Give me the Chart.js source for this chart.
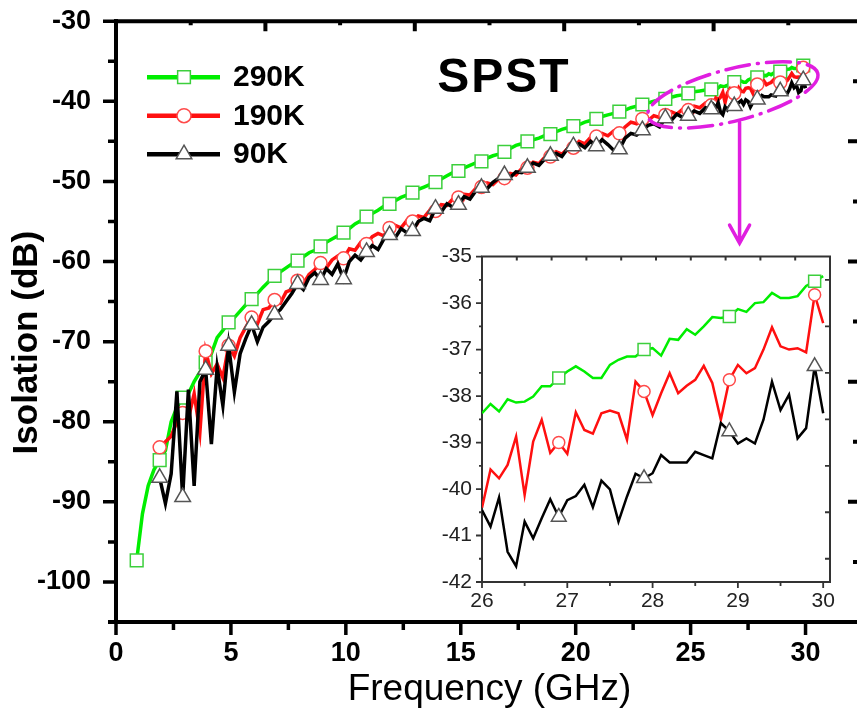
<!DOCTYPE html>
<html>
<head>
<meta charset="utf-8">
<script src="https://cdn.jsdelivr.net/npm/chart.js@4.4.1/dist/chart.umd.min.js"></script>
<style>
html, body { margin: 0; padding: 0; background: #fff; overflow: hidden; width: 857px; height: 721px; }
/* canvases are shifted so that the tick-label padding Chart.js reserves falls outside the page */
#main { position: absolute; left: 0; top: -20px; }
#inset { position: absolute; left: 420px; top: 234px; }
</style>
</head>
<body>
<canvas id="main" width="878" height="741"></canvas>
<canvas id="inset" width="437" height="396"></canvas>
<script>
// --- DATA ---
const seriesNames = ["290K", "190K", "90K"];

// coarse sweep for the main plot (GHz)
const mainFreq = [0.9,1.15,1.4,1.65,1.9,2.15,2.4,2.65,2.9,3.15,3.4,3.65,3.9,4.15,4.4,4.65,4.9,5.15,5.4,5.65,
  5.9,6.15,6.4,6.65,6.9,7.15,7.4,7.65,7.9,8.15,8.4,8.65,8.9,9.15,9.4,9.65,9.9,10.15,10.4,10.65,
  10.9,11.15,11.4,11.65,11.9,12.15,12.4,12.65,12.9,13.15,13.4,13.65,13.9,14.15,14.4,14.65,14.9,15.15,15.4,15.65,
  15.9,16.15,16.4,16.65,16.9,17.15,17.4,17.65,17.9,18.15,18.4,18.65,18.9,19.15,19.4,19.65,19.9,20.15,20.4,20.65,
  20.9,21.15,21.4,21.65,21.9,22.15,22.4,22.65,22.9,23.15,23.4,23.65,23.9,24.15,24.4,24.65,24.9,25.15,25.4,25.65,25.9];

const green290 = [-97.3,-91.5,-88.0,-86.0,-84.8,-83.6,-80.0,-78.2,-77.0,-76.5,-75.0,-73.8,-72.6,-71.5,-69.5,-68.6,
  -67.6,-67.0,-66.2,-65.4,-64.7,-64.0,-63.2,-62.5,-61.8,-61.3,-60.8,-60.3,-59.9,-59.4,-58.9,-58.6,
  -58.1,-57.6,-57.2,-56.8,-56.4,-55.9,-55.3,-54.9,-54.4,-54.0,-53.6,-53.1,-52.8,-52.4,-52.0,-51.7,
  -51.4,-51.0,-50.7,-50.4,-50.1,-49.7,-49.3,-48.9,-48.7,-48.3,-48.0,-47.7,-47.5,-47.1,-46.8,-46.6,
  -46.3,-45.9,-45.5,-45.3,-45.0,-44.8,-44.6,-44.3,-44.1,-43.8,-43.5,-43.3,-43.1,-42.9,-42.6,-42.4,
  -42.2,-41.9,-41.7,-41.5,-41.3,-41.1,-40.8,-40.6,-40.4,-40.2,-40.0,-39.8,-39.7,-39.5,-39.3,-39.2,
  -39.0,-38.8,-38.7,-38.6,-38.5];

const red190 = [null,null,null,null,-83.2,-82.5,-81.8,-80.0,-78.9,-79.6,-76.5,-81.3,-71.2,-74.0,-72.8,-74.5,
  -70.5,-71.8,-69.5,-68.2,-67.0,-67.8,-66.0,-65.8,-64.8,-65.2,-63.8,-63.5,-62.4,-62.8,-61.6,-61.0,
  -60.2,-60.8,-59.8,-59.3,-59.6,-58.4,-58.6,-57.6,-57.8,-56.9,-56.5,-56.8,-55.8,-55.5,-55.8,-54.9,
  -55.0,-54.3,-54.5,-53.6,-53.7,-52.9,-53.0,-52.2,-52.0,-51.6,-51.7,-50.9,-50.7,-50.2,-50.4,-49.7,
  -49.6,-49.0,-49.2,-48.4,-48.3,-47.6,-47.8,-47.0,-46.9,-46.3,-46.6,-45.9,-45.8,-45.0,-45.3,-44.5,
  -44.4,-44.0,-44.3,-43.7,-44.0,-43.2,-42.6,-42.8,-42.2,-42.4,-41.8,-42.0,-41.7,-41.3,-41.6,-41.0,
  -41.1,-40.6,-40.8,-40.2,-40.5];

const black90 = [null,null,null,null,-87.0,-90.2,-86.5,-76.2,-89.4,-76.0,-88.0,-75.0,-73.5,-82.8,-73.2,-78.0,
  -70.5,-76.3,-71.5,-69.6,-67.9,-70.0,-68.2,-67.5,-66.6,-66.0,-65.0,-64.0,-62.8,-63.5,-62.0,-61.4,
  -62.3,-60.9,-61.6,-60.3,-62.2,-60.0,-59.2,-59.8,-58.8,-58.0,-58.5,-57.2,-56.7,-57.0,-55.9,-56.4,
  -56.2,-55.0,-54.6,-54.9,-53.4,-53.8,-52.8,-53.2,-52.9,-51.9,-52.2,-51.2,-50.8,-50.9,-50.1,-49.6,
  -49.2,-49.5,-48.8,-48.9,-48.3,-47.7,-48.0,-47.2,-46.8,-46.5,-46.9,-45.9,-45.6,-45.3,-45.8,-45.0,
  -45.6,-44.8,-45.4,-46.1,-46.0,-44.6,-44.0,-44.2,-43.6,-43.0,-42.8,-43.2,-42.1,-42.4,-41.6,-42.0,
  -41.8,-41.2,-41.5,-40.8,-41.0];

// fine sweep 26-30 GHz (shown in both the main plot and the inset)
const insetFreq = [26.0,26.1,26.2,26.3,26.4,26.5,26.6,26.7,26.8,26.9,27.0,27.1,27.2,27.3,27.4,27.5,27.6,27.7,27.8,27.9,
  28.0,28.1,28.2,28.3,28.4,28.5,28.6,28.7,28.8,28.9,29.0,29.1,29.2,29.3,29.4,29.5,29.6,29.7,29.8,29.9,30.0];

const green290Fine = [-38.37,-38.17,-38.33,-38.07,-38.14,-38.12,-38.01,-37.79,-37.79,-37.61,
  -37.47,-37.36,-37.47,-37.61,-37.61,-37.33,-37.22,-37.15,-37.15,-37.0,
  -36.97,-37.13,-36.77,-36.79,-36.56,-36.68,-36.5,-36.3,-36.32,-36.29,
  -36.13,-36.19,-36.0,-35.98,-35.78,-35.89,-35.89,-35.85,-35.63,-35.53,-35.42];

const red190Fine = [-40.40,-39.58,-39.77,-39.48,-38.87,-40.13,-38.98,-38.51,-39.22,-39.0,
  -39.24,-38.35,-38.73,-38.81,-38.37,-38.31,-38.37,-38.94,-37.69,-37.9,
  -38.41,-37.94,-37.51,-37.94,-37.78,-37.65,-37.35,-37.72,-38.51,-37.65,
  -37.33,-37.51,-37.4,-37.0,-36.52,-36.93,-37.0,-36.97,-37.06,-35.82,-36.43];

const black90Fine = [-40.45,-40.81,-40.18,-41.35,-41.66,-40.70,-41.06,-40.63,-40.22,-40.60,
  -40.24,-40.15,-39.91,-40.39,-39.82,-40.01,-40.70,-40.16,-39.67,-39.77,
  -39.66,-39.27,-39.43,-39.43,-39.43,-39.20,-39.27,-39.34,-38.58,-38.76,
  -39.02,-38.91,-39.02,-38.51,-37.69,-38.3,-37.97,-38.91,-38.69,-37.36,-38.37];

// axis tick values
const mainXTicks = [0,2.5,5,7.5,10,12.5,15,17.5,20,22.5,25,27.5,30,32.5];
const mainYTicks = [-105,-100,-95,-90,-85,-80,-75,-70,-65,-60,-55,-50,-45,-40,-35,-30];
const insetXTicks = [26,26.5,27,27.5,28,28.5,29,29.5,30];
const insetYTicks = [-42,-41.5,-41,-40.5,-40,-39.5,-39,-38.5,-38,-37.5,-37,-36.5,-36,-35.5,-35];

// annotation: ellipse ends [GHz, dB] and arrow [GHz, dB top, dB tip]
const ellipseEnds = [[23.14, -41.9], [30.53, -36.5]];
const arrowLine = [27.13, -42.6, -57.7];

const FONT = "'Liberation Sans', Arial, sans-serif";
const MAGENTA = "#e01ee0";

// --- HELPERS ---
const isMult = (v, m) => Math.abs(v / m - Math.round(v / m)) < 1e-6;
const isMarker = (x) => isMult(x - 0.9, 1);

function points(xs, ys) {
    return xs.map((x, i) => ({ x: x, y: ys[i] }));
}

const styles = [
    { color: "#00ee00", mark: "rect", edge: "#3ccf3c" },
    { color: "#ff1010", mark: "circle", edge: "#ff4a4a" },
    { color: "#000000", mark: "triangle", edge: "#555555" }
];

function makeSets(data, lw, sizes) {
    return data.map((d, i) => ({
        label: seriesNames[i],
        data: d,
        order: 3 - i,
        borderColor: styles[i].color,
        borderWidth: lw,
        tension: 0,
        spanGaps: false,
        pointStyle: styles[i].mark,
        pointBackgroundColor: "#fff",
        pointBorderColor: styles[i].edge,
        pointBorderWidth: 1.5,
        pointRadius: (c) => (c.raw && c.raw.y !== null && isMarker(c.raw.x)) ? sizes[i] : 0
    }));
}

function drawMarker(ctx, kind, x, y, r, edge) {
    ctx.save();
    ctx.fillStyle = "#fff";
    ctx.strokeStyle = edge;
    ctx.lineWidth = 1.5;
    ctx.beginPath();
    if (kind === "rect") {
        const s = r * Math.SQRT1_2;
        ctx.rect(x - s, y - s, 2 * s, 2 * s);
    } else if (kind === "circle") {
        ctx.arc(x, y, r, 0, Math.PI * 2);
    } else {
        ctx.moveTo(x, y - r);
        ctx.lineTo(x + r * 0.866, y + r * 0.5);
        ctx.lineTo(x - r * 0.866, y + r * 0.5);
        ctx.closePath();
    }
    ctx.fill();
    ctx.stroke();
    ctx.restore();
}

// tick marks on an axis: positive length = outward, negative = inward
function marks(ctx, scale, edge, lenOf, width, color) {
    const a = scale.chart.chartArea;
    ctx.save();
    ctx.strokeStyle = color;
    ctx.lineWidth = width;
    ctx.beginPath();
    scale.ticks.forEach(t => {
        const L = lenOf(t.value);
        if (!L) return;
        const p = scale.getPixelForValue(t.value);
        if (edge === "bottom") { ctx.moveTo(p, a.bottom); ctx.lineTo(p, a.bottom + L); }
        if (edge === "left") { ctx.moveTo(a.left, p); ctx.lineTo(a.left - L, p); }
        if (edge === "right") { ctx.moveTo(a.right, p); ctx.lineTo(a.right - L, p); }
    });
    ctx.stroke();
    ctx.restore();
}

// mirror frame: top and right edges with their own inward ticks (n divisions)
function frame(ctx, a, width, color, n, lenTop, lenRight) {
    ctx.save();
    ctx.strokeStyle = color;
    ctx.lineWidth = width;
    ctx.beginPath();
    ctx.moveTo(a.left - width / 2, a.top);
    ctx.lineTo(a.right, a.top);
    ctx.lineTo(a.right, a.bottom);
    for (let k = 1; k < n; k++) {
        const x = a.left + (a.right - a.left) * k / n;
        const lt = lenTop(k);
        if (lt) { ctx.moveTo(x, a.top); ctx.lineTo(x, a.top + lt); }
        const y = a.bottom - (a.bottom - a.top) * k / n;
        const lr = lenRight ? lenRight(k) : 0;
        if (lr) { ctx.moveTo(a.right, y); ctx.lineTo(a.right - lr, y); }
    }
    ctx.stroke();
    ctx.restore();
}

const fixTicks = (list) => (s) => { s.ticks = list.map(v => ({ value: v })); };

// --- MAIN CHART ---
const mainDecor = {
    id: "mainDecor",
    afterDraw(chart) {
        const ctx = chart.ctx, a = chart.chartArea, sc = chart.scales;
        frame(ctx, a, 4, "#000", 10, k => k % 2 ? 4 : 10, k => k % 2 ? 10 : 15);
        marks(ctx, sc.x, "bottom", v => isMult(v, 5) ? 13 : 8, 3.5, "#000");
        marks(ctx, sc.y, "left", v => isMult(v, 10) ? 13 : 8, 3.5, "#000");

        // bottom axis line runs a little past the left axis
        ctx.save();
        ctx.strokeStyle = "#000";
        ctx.lineWidth = 4;
        ctx.beginPath();
        ctx.moveTo(a.left - 8, a.bottom);
        ctx.lineTo(a.left, a.bottom);
        ctx.stroke();
        ctx.restore();

        // legend
        seriesNames.forEach((name, i) => {
            const y = a.top + 56 + i * 38.5;
            ctx.save();
            ctx.strokeStyle = styles[i].color;
            ctx.lineWidth = 4.5;
            ctx.beginPath();
            ctx.moveTo(a.left + 31, y);
            ctx.lineTo(a.left + 104, y);
            ctx.stroke();
            ctx.restore();
            drawMarker(ctx, styles[i].mark, a.left + 68, y, i === 1 ? 7 : 9, styles[i].edge);
            ctx.save();
            ctx.fillStyle = "#000";
            ctx.font = "bold 30px " + FONT;
            ctx.textBaseline = "middle";
            ctx.fillText(name, a.left + 117, y + 1);
            ctx.restore();
        });

        ctx.save();
        ctx.fillStyle = "#000";
        ctx.font = "bold 48px " + FONT;
        ctx.letterSpacing = "2px";
        ctx.textAlign = "center";
        ctx.textBaseline = "middle";
        ctx.fillText("SPST", a.left + 388, a.top + 58);
        ctx.letterSpacing = "0px";

        // y title
        ctx.translate(a.left - 89, (a.top + a.bottom) / 2 + 21);
        ctx.rotate(-Math.PI / 2);
        ctx.font = "bold 35px " + FONT;
        ctx.fillText("Isolation (dB)", 0, 0);
        ctx.restore();

        // magenta zoom ellipse + arrow
        const L = { x: sc.x.getPixelForValue(ellipseEnds[0][0]), y: sc.y.getPixelForValue(ellipseEnds[0][1]) };
        const R = { x: sc.x.getPixelForValue(ellipseEnds[1][0]), y: sc.y.getPixelForValue(ellipseEnds[1][1]) };
        ctx.save();
        ctx.strokeStyle = MAGENTA;
        ctx.lineWidth = 3.5;
        ctx.lineCap = "round";
        ctx.setLineDash([24, 8, 1, 8]);
        ctx.beginPath();
        ctx.ellipse((L.x + R.x) / 2, (L.y + R.y) / 2, Math.hypot(R.x - L.x, R.y - L.y) / 2, 26,
            Math.atan2(R.y - L.y, R.x - L.x), 0, Math.PI * 2);
        ctx.stroke();
        ctx.setLineDash([]);
        const ax = sc.x.getPixelForValue(arrowLine[0]);
        const y0 = sc.y.getPixelForValue(arrowLine[1]);
        const y1 = sc.y.getPixelForValue(arrowLine[2]);
        ctx.beginPath();
        ctx.moveTo(ax, y0);
        ctx.lineTo(ax, y1);
        ctx.moveTo(ax - 10, y1 - 18);
        ctx.lineTo(ax, y1);
        ctx.lineTo(ax + 10, y1 - 18);
        ctx.stroke();
        ctx.restore();
    }
};

new Chart(document.getElementById("main"), {
    type: "line",
    data: {
        datasets: makeSets([
            points(mainFreq.concat(insetFreq), green290.concat(green290Fine)),
            points(mainFreq.concat(insetFreq), red190.concat(red190Fine)),
            points(mainFreq.concat(insetFreq), black90.concat(black90Fine))
        ], 3.5, [9, 6.5, 9])
    },
    options: {
        responsive: false,
        animation: false,
        events: [],
        layout: { padding: 0 },
        plugins: { legend: { display: false }, tooltip: { enabled: false } },
        scales: {
            x: {
                type: "linear", min: 0, max: 32.5,
                afterBuildTicks: fixTicks(mainXTicks),
                ticks: {
                    autoSkip: false, maxRotation: 0, padding: 15, color: "#000",
                    font: { family: FONT, size: 27, weight: "bold" },
                    callback: v => isMult(v, 5) && v <= 30 ? v : ""
                },
                grid: { display: true, drawOnChartArea: false, drawTicks: false },
                border: { display: true, color: "#000", width: 4 },
                title: {
                    display: true, text: "Frequency (GHz)", color: "#000",
                    font: { family: FONT, size: 37 }, padding: { top: 0, bottom: 9 }
                },
                afterFit: s => { s.height = 99; }
            },
            y: {
                type: "linear", min: -105, max: -30,
                afterBuildTicks: fixTicks(mainYTicks),
                ticks: {
                    autoSkip: false, padding: 25, color: "#000",
                    font: { family: FONT, size: 27, weight: "bold" },
                    callback: v => isMult(v, 10) ? v : ""
                },
                grid: { display: true, drawOnChartArea: false, drawTicks: false },
                border: { display: true, color: "#000", width: 4 },
                afterFit: s => { s.width = 116; }
            }
        }
    },
    plugins: [mainDecor]
});

// --- INSET CHART ---
const insetDecor = {
    id: "insetDecor",
    afterDraw(chart) {
        const ctx = chart.ctx, sc = chart.scales;
        frame(ctx, chart.chartArea, 2, "#333", 10, () => 4, null);
        marks(ctx, sc.x, "bottom", v => isMult(v, 1) ? 6 : 4, 1.8, "#333");
        marks(ctx, sc.y, "left", v => isMult(v, 1) ? 6 : 3, 1.8, "#333");
        marks(ctx, sc.y, "right", v => isMult(v, 1) ? 0 : 5, 1.8, "#333");
    }
};

new Chart(document.getElementById("inset"), {
    type: "line",
    data: {
        datasets: makeSets([
            points(insetFreq, green290Fine),
            points(insetFreq, red190Fine),
            points(insetFreq, black90Fine)
        ], 2.5, [8.5, 6, 8.5])
    },
    options: {
        responsive: false,
        animation: false,
        events: [],
        layout: { padding: { top: 0, right: 27, left: 0, bottom: 0 } },
        plugins: { legend: { display: false }, tooltip: { enabled: false } },
        scales: {
            x: {
                type: "linear", min: 26, max: 30.08,
                afterBuildTicks: fixTicks(insetXTicks),
                ticks: {
                    autoSkip: false, maxRotation: 0, padding: 7, color: "#222",
                    font: { family: FONT, size: 21 },
                    callback: v => isMult(v, 1) ? v : ""
                },
                grid: { display: true, drawOnChartArea: false, drawTicks: false },
                border: { display: true, color: "#333", width: 2 },
                afterFit: s => { s.height = 48; }
            },
            y: {
                type: "linear", min: -42, max: -35,
                afterBuildTicks: fixTicks(insetYTicks),
                ticks: {
                    autoSkip: false, padding: 10, color: "#222",
                    font: { family: FONT, size: 21 },
                    callback: v => isMult(v, 1) ? v : ""
                },
                grid: { display: true, drawOnChartArea: false, drawTicks: false },
                border: { display: true, color: "#333", width: 2 },
                afterFit: s => { s.width = 62; }
            }
        }
    },
    plugins: [insetDecor]
});
</script>
</body>
</html>
